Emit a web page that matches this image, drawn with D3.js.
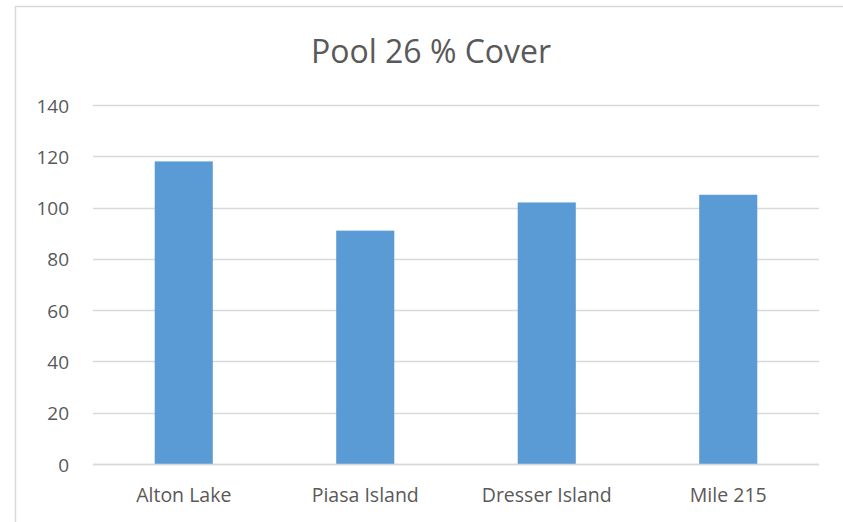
<!DOCTYPE html>
<html>
<head>
<meta charset="utf-8">
<script src="https://cdn.jsdelivr.net/npm/d3@7"></script>
<style>
  html, body { margin: 0; padding: 0; background: #fff; }
  svg { display: block; }
  text { font-family: "Open Sans", "Noto Sans", sans-serif; fill: #595959; }
</style>
</head>
<body>
<svg id="chart" width="843" height="522"></svg>
<script>
// Chart data
const categories = ["Alton Lake", "Piasa Island", "Dresser Island", "Mile 215"];
const coverValues = [118, 91, 102, 105];
const yTicks = [0, 20, 40, 60, 80, 100, 120, 140];
const chartTitle = "Pool 26 % Cover";

const svg = d3.select("#chart");
const W = 843, H = 522;
const FONT = '"Open Sans", "Noto Sans", sans-serif';

// Chart frame
svg.append("rect")
  .attr("x", 15.5).attr("y", 6.5)
  .attr("width", W + 10).attr("height", H + 10)
  .attr("fill", "#fff")
  .attr("stroke", "#d9d9d9")
  .attr("stroke-width", 1.5);

const plot = { left: 93, right: 819, top: 105, bottom: 464 };

const x = d3.scaleBand()
  .domain(categories)
  .range([plot.left, plot.right])
  .paddingInner(0.68)
  .paddingOuter(0.34);

const y = d3.scaleLinear()
  .domain([0, 140])
  .range([plot.bottom, plot.top]);

// Gridlines
svg.append("g")
  .selectAll("line")
  .data(yTicks)
  .join("line")
  .attr("x1", plot.left).attr("x2", plot.right)
  .attr("y1", d => Math.round(y(d)) + 0.5)
  .attr("y2", d => Math.round(y(d)) + 0.5)
  .attr("stroke", "#d9d9d9")
  .attr("stroke-width", 1.5);

// Y axis labels
const yAxis = d3.axisLeft(y).tickValues(yTicks).tickSize(0).tickPadding(0);
const gy = svg.append("g")
  .attr("transform", `translate(${plot.left - 24},1)`)
  .call(yAxis);
gy.select(".domain").remove();
gy.selectAll("text")
  .attr("font-size", 19)
  .attr("fill", "#595959")
  .style("font-family", FONT);

// Bars
svg.append("g")
  .selectAll("rect")
  .data(categories.map((c, i) => ({ c, v: coverValues[i] })))
  .join("rect")
  .attr("x", d => x(d.c))
  .attr("width", x.bandwidth())
  .attr("y", d => y(d.v))
  .attr("height", d => y(0) - y(d.v))
  .attr("fill", "#5b9bd5");

// Baseline redrawn over bars
svg.append("line")
  .attr("x1", plot.left).attr("x2", plot.right)
  .attr("y1", Math.round(y(0)) + 0.5).attr("y2", Math.round(y(0)) + 0.5)
  .attr("stroke", "#d9d9d9")
  .attr("stroke-width", 1.5);

// Category labels
const xAxis = d3.axisBottom(x).tickSize(0).tickPadding(0);
const gx = svg.append("g")
  .attr("transform", `translate(0,${plot.bottom + 38})`)
  .call(xAxis);
gx.select(".domain").remove();
gx.selectAll("text")
  .attr("font-size", 19.5)
  .attr("fill", "#595959")
  .attr("dy", "0")
  .style("font-family", FONT);

// Title
svg.append("text")
  .attr("x", (plot.left + plot.right) / 2 - 25)
  .attr("y", 63)
  .attr("text-anchor", "middle")
  .attr("font-size", 32)
  .text(chartTitle);
</script>
</body>
</html>
